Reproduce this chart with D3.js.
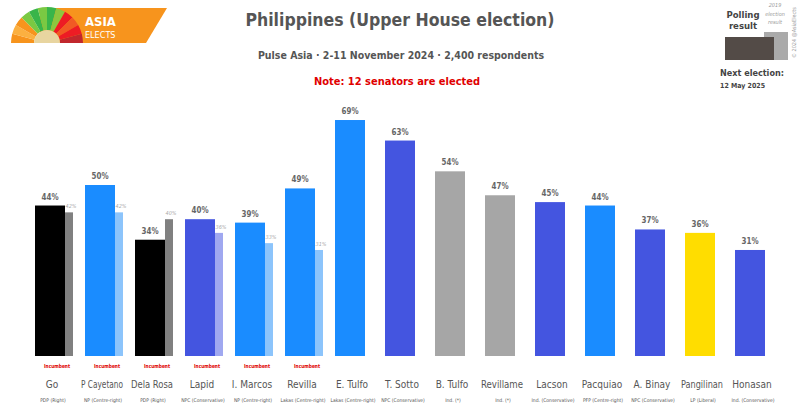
<!DOCTYPE html>
<html><head><meta charset="utf-8">
<script src="https://cdn.jsdelivr.net/npm/d3@7"></script>
<style>body{margin:0;background:#fff;} svg{display:block;} text{font-family:"DejaVu Sans Condensed","DejaVu Sans",sans-serif;}</style>
</head><body><svg id="c" width="800" height="409"></svg>
<script>
const names = ["Go","P Cayetano","Dela Rosa","Lapid","I. Marcos","Revilla","E. Tulfo","T. Sotto","B. Tulfo","Revillame","Lacson","Pacquiao","A. Binay","Pangilinan","Honasan"];
const parties = ["PDP (Right)","NP (Centre-right)","PDP (Right)","NPC (Conservative)","NP (Centre-right)","Lakas (Centre-right)","Lakas (Centre-right)","NPC (Conservative)","Ind. (*)","Ind. (*)","Ind. (Conservative)","PFP (Centre-right)","NPC (Conservative)","LP (Liberal)","Ind. (Conservative)"];
const values = [44,50,34,40,39,49,69,63,54,47,45,44,37,36,31];
const prev2019 = [42,42,40,36,33,31,null,null,null,null,null,null,null,null,null];
const incumbent = [true,true,true,true,true,true,false,false,false,false,false,false,false,false,false];
const groups = ["pdp","np","pdp","npc","np","np","np","npc","ind","ind","npc","np","npc","lp","npc"];
const mainColor = {pdp:"#000000",np:"#1a8cff",npc:"#4455e0",ind:"#a6a6a6",lp:"#ffdd00"};
const prevColor = {pdp:"#808080",np:"#8cc4fb",npc:"#a0a8f0",ind:"#d0d0d0",lp:"#ffee88"};

const svg = d3.select("#c");
const x = d3.scaleBand().domain(names).range([25,775]).padding(0);
const y = d3.scaleLinear().domain([0,100]).range([356,14]);
const bw = 30, pw = 8, off = 10;

function fit(sel, maxW){ sel.each(function(){ const w=this.getComputedTextLength(); if(w>maxW){ d3.select(this).attr("textLength",maxW).attr("lengthAdjust","spacingAndGlyphs"); } }); }

const g = svg.append("g");
const idx = names.map((n,i)=>({n,i}));
const withPrev = idx.filter(d=>prev2019[d.i]!=null);
g.selectAll("rect.prev").data(withPrev).enter()
 .append("rect").attr("class","prev")
 .attr("x",d=>x(d.n)+off+bw).attr("width",pw)
 .attr("y",d=>y(prev2019[d.i])).attr("height",d=>y(0)-y(prev2019[d.i]))
 .attr("fill",d=>prevColor[groups[d.i]]);
g.selectAll("text.prevl").data(withPrev).enter()
 .append("text").attr("x",d=>x(d.n)+off+bw+pw/2+2).attr("y",d=>y(prev2019[d.i])-4)
 .attr("text-anchor","middle").attr("font-size",5.5).attr("font-style","italic").attr("fill","#aaa")
 .text(d=>prev2019[d.i]+"%");
g.selectAll("rect.main").data(names).enter().append("rect")
 .attr("x",d=>x(d)+off).attr("width",bw)
 .attr("y",(d,i)=>y(values[i])).attr("height",(d,i)=>y(0)-y(values[i]))
 .attr("fill",(d,i)=>mainColor[groups[i]]);
g.selectAll("text.val").data(names).enter().append("text")
 .attr("x",d=>x(d)+off+bw/2).attr("y",(d,i)=>y(values[i])-6)
 .attr("text-anchor","middle").attr("font-size",8).attr("font-weight","bold").attr("fill","#666")
 .text((d,i)=>values[i]+"%").call(fit,17);
g.selectAll("text.inc").data(names.filter((d,i)=>incumbent[i])).enter().append("text")
 .attr("x",d=>x(d)+off+bw/2+7).attr("y",368).attr("text-anchor","middle")
 .attr("font-size",5.5).attr("font-weight","bold").attr("fill","#e00000").text("Incumbent").call(fit,26);
g.selectAll("text.name").data(names).enter().append("text")
 .attr("x",d=>x(d)+off+bw/2+2).attr("y",388).attr("text-anchor","middle")
 .attr("font-size",10).attr("fill","#555").text(d=>d).call(fit,42);
g.selectAll("text.party").data(names).enter().append("text")
 .attr("x",d=>x(d)+off+bw/2+3).attr("y",402).attr("text-anchor","middle")
 .attr("font-size",5).attr("fill","#555").text((d,i)=>parties[i]).call(fit,46);

svg.append("text").attr("x",400).attr("y",26).attr("text-anchor","middle").attr("font-size",17.5)
 .attr("font-weight","bold").attr("fill","#555").text("Philippines (Upper House election)");
svg.append("text").attr("x",401).attr("y",59).attr("text-anchor","middle").attr("font-size",10.5)
 .attr("font-weight","bold").attr("fill","#555").text("Pulse Asia · 2-11 November 2024 · 2,400 respondents");
svg.append("text").attr("x",397).attr("y",85).attr("text-anchor","middle").attr("font-size",11)
 .attr("font-weight","bold").attr("fill","#e00000").text("Note: 12 senators are elected");

const logo = svg.append("g");
logo.append("path").attr("d","M40,8 L167,8 L146,43 L40,43 Z").attr("fill","#f7941d");
const wedgeCols = ["#f7941d","#fbb040","#f7941d","#7ac943","#39b54a","#7ac943","#39b54a","#8dc63f","#ed1c24","#f15a24","#ed1c24","#c1272d"];
const arc = d3.arc().innerRadius(13).outerRadius(36);
const n = wedgeCols.length;
wedgeCols.forEach((c,i)=>{
  logo.append("path").attr("transform","translate(47,43)")
   .attr("d",arc({startAngle:-Math.PI/2+i*Math.PI/n,endAngle:-Math.PI/2+(i+1)*Math.PI/n})).attr("fill",c);
});
logo.append("path").attr("transform","translate(47,43)")
 .attr("d",d3.arc().innerRadius(0).outerRadius(13)({startAngle:-Math.PI/2,endAngle:Math.PI/2})).attr("fill","#e8d5a0");
logo.append("text").attr("x",85).attr("y",26).attr("font-size",13).attr("font-weight","bold").attr("fill","#fff").text("ASIA");
logo.append("text").attr("x",85).attr("y",38).attr("font-size",9).attr("fill","#fff").text("ELECTS");

const lg = svg.append("g");
lg.append("rect").attr("x",764).attr("y",32).attr("width",24).attr("height",28).attr("fill","#aaaaaa");
lg.append("rect").attr("x",725).attr("y",37).attr("width",49).attr("height",23).attr("fill","#534b47");
lg.append("text").attr("x",743).attr("y",18).attr("text-anchor","middle").attr("font-size",9.5).attr("font-weight","bold").attr("fill","#444").text("Polling");
lg.append("text").attr("x",743).attr("y",29).attr("text-anchor","middle").attr("font-size",9.5).attr("font-weight","bold").attr("fill","#444").text("result");
["2019","election","result"].forEach((t,i)=>lg.append("text").attr("x",775).attr("y",7+i*8.5).attr("text-anchor","middle")
 .attr("font-size",5.5).attr("font-style","italic").attr("fill","#999").text(t));
lg.append("text").attr("transform","translate(796,58) rotate(-90)").attr("font-size",5.5).attr("fill","#999").text("© 2024 @AsiaElects");
lg.append("text").attr("x",720).attr("y",76).attr("font-size",9).attr("font-weight","bold").attr("fill","#444").text("Next election:");
lg.append("text").attr("x",720).attr("y",88).attr("font-size",7).attr("font-weight","bold").attr("fill","#444").text("12 May 2025");
</script></body></html>
